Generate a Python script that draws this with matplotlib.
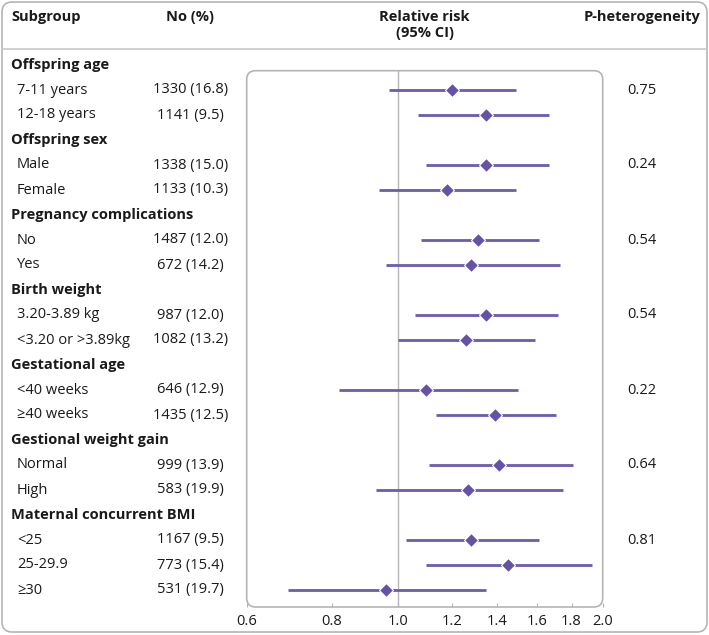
import numpy as np
import matplotlib.pyplot as plt
from matplotlib.patches import FancyBboxPatch
from matplotlib.ticker import FixedLocator, NullLocator

plt.rcParams['font.family'] = ['Open Sans', 'DejaVu Sans']

# Data
groups = ['Offspring age', 'Offspring sex', 'Pregnancy complications', 'Birth weight',
          'Gestational age', 'Gestional weight gain', 'Maternal concurrent BMI']
subgroups = [
    ['7-11 years', '12-18 years'],
    ['Male', 'Female'],
    ['No', 'Yes'],
    ['3.20-3.89 kg', '<3.20 or >3.89kg'],
    ['<40 weeks', '≥40 weeks'],
    ['Normal', 'High'],
    ['<25', '25-29.9', '≥30'],
]
counts = [
    ['1330 (16.8)', '1141 (9.5)'],
    ['1338 (15.0)', '1133 (10.3)'],
    ['1487 (12.0)', '672 (14.2)'],
    ['987 (12.0)', '1082 (13.2)'],
    ['646 (12.9)', '1435 (12.5)'],
    ['999 (13.9)', '583 (19.9)'],
    ['1167 (9.5)', '773 (15.4)', '531 (19.7)'],
]
rr = [[1.20, 1.35], [1.35, 1.18], [1.31, 1.28], [1.35, 1.26],
      [1.10, 1.39], [1.41, 1.27], [1.28, 1.45, 0.96]]
ci_low = [[0.97, 1.07], [1.10, 0.94], [1.08, 0.96], [1.06, 1.00],
          [0.82, 1.14], [1.11, 0.93], [1.03, 1.10, 0.69]]
ci_high = [[1.49, 1.67], [1.67, 1.49], [1.61, 1.73], [1.72, 1.59],
           [1.50, 1.71], [1.81, 1.75], [1.61, 1.93, 1.35]]
p_het = ['0.75', '0.24', '0.54', '0.54', '0.22', '0.64', '0.81']
xticks = [0.6, 0.8, 1.0, 1.2, 1.4, 1.6, 1.8, 2.0]

W, H = 709, 635
line_col = '#6c5bb0'
grey = '#b5b5b5'
text_col = '#1a1a1a'
fs = 10.5

fig = plt.figure(figsize=(W / 100, H / 100), dpi=100)

# layout canvas in pixel units
bg = fig.add_axes([0, 0, 1, 1])
bg.set_xlim(0, W)
bg.set_ylim(H, 0)
bg.axis('off')

bg.add_patch(FancyBboxPatch((2, 2), W - 4, H - 5, boxstyle='round,pad=0,rounding_size=10',
                            fc='none', ec=grey, lw=1.2))
bg.plot([2, W - 2], [49, 49], color='#c8c8c8', lw=1.2)

bg.text(11, 17, 'Subgroup', fontsize=fs, fontweight='bold', va='center', color=text_col)
bg.text(190.5, 17, 'No (%)', fontsize=fs, fontweight='bold', va='center', ha='center', color=text_col)
bg.text(424.5, 17, 'Relative risk', fontsize=fs, fontweight='bold', va='center', ha='center', color=text_col)
bg.text(424.5, 33, '(95% CI)', fontsize=fs, fontweight='bold', va='center', ha='center', color=text_col)
bg.text(642, 17, 'P-heterogeneity', fontsize=fs, fontweight='bold', va='center', ha='center', color=text_col)

# forest axes
top_row, bot_row = 0.23, 21.68
ax = fig.add_axes([246.7 / W, (H - 607) / H, 356 / W, (607 - 70.7) / H])
ax.set_xscale('log')
ax.set_xlim(0.6, 2.0)
ax.set_ylim(bot_row, top_row)
ax.patch.set_alpha(0)
for s in ax.spines.values():
    s.set_visible(False)
ax.add_patch(FancyBboxPatch((0, 0), 1, 1, transform=ax.transAxes,
                            boxstyle='round,pad=0,rounding_size=0.025',
                            fc='none', ec=grey, lw=1.2, clip_on=False, mutation_aspect=356 / 536))
ax.axvline(1.0, color=grey, lw=1)
ax.xaxis.set_major_locator(FixedLocator(xticks))
ax.xaxis.set_minor_locator(NullLocator())
ax.set_xticklabels([f'{t:.1f}' for t in xticks])
ax.tick_params(axis='x', direction='in', length=3, color=grey, labelsize=fs,
               labelcolor=text_col, pad=5)
ax.set_yticks([])

row = 0
for g, name in enumerate(groups):
    bg.text(11, 65 + 25 * row, name, fontsize=fs, fontweight='bold', va='center', color=text_col)
    row += 1
    for k, sub in enumerate(subgroups[g]):
        y_px = 65 + 25 * row
        bg.text(17, y_px, sub, fontsize=fs, va='center', color=text_col)
        bg.text(190.5, y_px, counts[g][k], fontsize=fs, va='center', ha='center', color=text_col)
        if k == 0:
            bg.text(642, y_px, p_het[g], fontsize=fs, va='center', ha='center', color=text_col)
        ax.plot([ci_low[g][k], ci_high[g][k]], [row, row], color=line_col, lw=2, solid_capstyle='butt')
        ax.plot(rr[g][k], row, marker='D', ms=7, color='#6551a6', mec='white', mew=0.8)
        row += 1

fig.savefig('out.png', dpi=100)
